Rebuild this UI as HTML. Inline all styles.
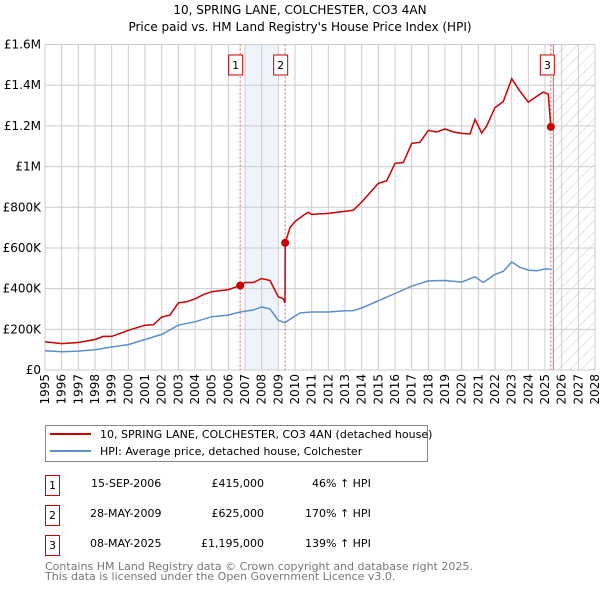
<!DOCTYPE html>
<html><head><meta charset="utf-8"><style>
body{margin:0;background:#fff;font-family:"DejaVu Sans","Liberation Sans",sans-serif;}
svg text{font-family:"DejaVu Sans","Liberation Sans",sans-serif;}
</style></head><body>
<svg id="c" width="600" height="590" xmlns="http://www.w3.org/2000/svg">
<defs><pattern id="hatch" width="8" height="8" patternUnits="userSpaceOnUse" patternTransform="rotate(45)"><line x1="0" y1="0" x2="0" y2="8" stroke="#ccc" stroke-width="1"/></pattern></defs>
<text x="300" y="14" text-anchor="middle" font-size="12">10, SPRING LANE, COLCHESTER, CO3 4AN</text>
<text x="300" y="31" text-anchor="middle" font-size="12">Price paid vs. HM Land Registry's House Price Index (HPI)</text>
<g id="plot"></g>
<g>
<rect x="45.5" y="425.5" width="382" height="36" fill="#fff" stroke="#888"/>
<line x1="50" y1="434" x2="91" y2="434" stroke="#cc0000" stroke-width="2"/>
<text x="100" y="438" font-size="11">10, SPRING LANE, COLCHESTER, CO3 4AN (detached house)</text>
<line x1="50" y1="451" x2="91" y2="451" stroke="#5b8fd0" stroke-width="2"/>
<text x="100" y="455" font-size="11">HPI: Average price, detached house, Colchester</text>
</g>
<g font-size="11">
<rect x="45.5" y="475.5" width="14" height="20" fill="#fff" stroke="#c00"/><text x="52.5" y="489" text-anchor="middle">1</text>
<text x="91" y="487">15-SEP-2006</text><text x="264" y="487" text-anchor="end">£415,000</text><text x="312" y="487">46% ↑ HPI</text>
<rect x="45.5" y="505.5" width="14" height="20" fill="#fff" stroke="#c00"/><text x="52.5" y="519" text-anchor="middle">2</text>
<text x="90" y="517">28-MAY-2009</text><text x="264" y="517" text-anchor="end">£625,000</text><text x="305" y="517">170% ↑ HPI</text>
<rect x="45.5" y="535.5" width="14" height="20" fill="#fff" stroke="#c00"/><text x="52.5" y="549" text-anchor="middle">3</text>
<text x="90" y="547">08-MAY-2025</text><text x="264" y="547" text-anchor="end">£1,195,000</text><text x="305" y="547">139% ↑ HPI</text>
</g>
<text x="45" y="570" font-size="11" fill="#777">Contains HM Land Registry data © Crown copyright and database right 2025.</text>
<text x="45" y="580" font-size="11" fill="#777">This data is licensed under the Open Government Licence v3.0.</text>
</svg>
<script>
const hpiYears=[1995,1996,1997,1998,1999,2000,2001,2002,2003,2004,2005,2006,2006.7,2007.5,2008,2008.5,2009,2009.4,2009.8,2010.3,2011,2012,2013,2013.5,2014,2015,2016,2017,2018,2019,2020,2020.8,2021.3,2022,2022.5,2023,2023.5,2024,2024.5,2025,2025.4];
const hpiValues=[95,90,93,100,113,125,150,175,220,237,262,270,285,295,310,300,245,232,255,280,285,285,291,292,305,340,376,412,438,440,432,458,430,470,485,531,505,491,488,497,495];
const propYears=[1995,1996,1997,1998,1998.5,1999,1999.5,2000,2001,2001.5,2002,2002.5,2003,2003.5,2004,2004.5,2005,2006,2006.71,2007,2007.5,2008,2008.5,2009,2009.3,2009.4,2009.41,2009.7,2010,2010.5,2010.8,2011,2012,2013,2013.5,2014,2015,2015.5,2016,2016.5,2017,2017.5,2018,2018.5,2019,2019.5,2020,2020.5,2020.8,2021.2,2021.5,2022,2022.5,2023,2023.5,2024,2024.5,2024.9,2025.2,2025.35];
const propValues=[139,130,135,150,165,165,180,195,220,222,260,270,330,335,350,370,385,395,415,430,430,450,440,360,350,330,625,700,730,760,775,765,770,780,785,826,917,930,1016,1020,1114,1120,1178,1170,1185,1170,1163,1160,1232,1165,1200,1290,1320,1432,1370,1317,1345,1366,1355,1195];
const saleYears=[2006.71,2009.41,2025.35];
const saleValues=[415,625,1195];
const saleLabels=["1","2","3"];
const yTicks=[0,200,400,600,800,1000,1200,1400,1600];
const yTickLabels=["£0","£200K","£400K","£600K","£800K","£1M","£1.2M","£1.4M","£1.6M"];
const xStart=1995,xEnd=2028;
const L=45,R=595,T=44.5,B=370;
const X=v=>L+(v-xStart)/(xEnd-xStart)*(R-L);
const Y=v=>B-v/1600*(B-T);
const g=document.getElementById('plot');
const NS='http://www.w3.org/2000/svg';
function mk(t,a){const e=document.createElementNS(NS,t);for(const k in a)e.setAttribute(k,a[k]);g.appendChild(e);return e;}
let e=mk('rect',{x:X(2007),y:T,width:X(2009)-X(2007),height:B-T,fill:'#eef3fc'});


e=mk('rect',{x:X(2025.5),y:T,width:R-X(2025.5),height:B-T,fill:'url(#hatch)'});


for(let yr=xStart;yr<=xEnd;yr++){
 e=mk('line',{x1:X(yr),x2:X(yr),y1:T,y2:B,stroke:'#ccc','stroke-width':1});
 
 
 const tx=X(yr)+4,ty=B+4;
 e=mk('text',{x:tx,y:ty,transform:`rotate(-90 ${tx} ${ty})`,'text-anchor':'end','font-size':12});
 e.textContent=yr;
 
 
}
yTicks.forEach((v,i)=>{
 e=mk('line',{x1:L,x2:R,y1:Y(v),y2:Y(v),stroke:'#ccc','stroke-width':1});
 
 
 e=mk('text',{x:L-4,y:Y(v)+4,'text-anchor':'end','font-size':12});
 e.textContent=yTickLabels[i];
 
 
});
e=mk('line',{x1:X(2025.5),x2:X(2025.5),y1:T,y2:B,stroke:'#888','stroke-width':1});


saleYears.forEach((yr,i)=>{
 e=mk('line',{x1:X(yr),x2:X(yr),y1:T,y2:B,stroke:'#e06060','stroke-width':1,'stroke-dasharray':'2,2'});
 
 
 const bx=X(yr)-(i==2?3.5:4.5);
 e=mk('rect',{x:bx-7,y:55,width:14,height:20,fill:'#fff',stroke:'#c00'});
 
 
 e=mk('text',{x:bx,y:69,'text-anchor':'middle','font-size':11});
 e.textContent=saleLabels[i];
 
 
});
e=mk('path',{d:hpiYears.map((y,i)=>(i?'L':'M')+X(y).toFixed(1)+','+Y(hpiValues[i]).toFixed(1)).join(''),fill:'none',stroke:'#5b8fd0','stroke-width':1.5});


e=mk('path',{d:propYears.map((y,i)=>(i?'L':'M')+X(y).toFixed(1)+','+Y(propValues[i]).toFixed(1)).join(''),fill:'none',stroke:'#cc0000','stroke-width':1.5});


saleYears.forEach((yr,i)=>{
 e=mk('circle',{cx:X(yr),cy:Y(saleValues[i]),r:4,fill:'#cc0000'});
 
 
});
</script>
</body></html>
